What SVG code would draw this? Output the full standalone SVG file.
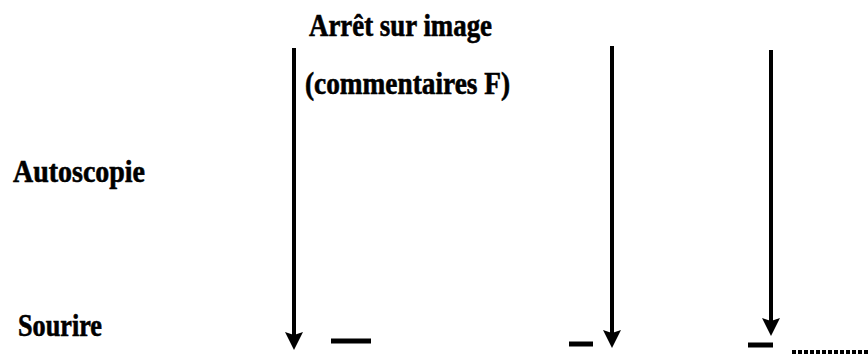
<svg xmlns="http://www.w3.org/2000/svg" width="868" height="356" viewBox="0 0 868 356">
<defs>
<style>
.t{font-family:"Liberation Serif","Times New Roman",serif;font-weight:bold;font-size:31px;fill:#000;stroke:#000;stroke-width:0.6}
.ln{stroke:#000;stroke-width:4;fill:none}
.dash{stroke:#000;stroke-width:5;fill:none}
</style>
<marker id="ah" viewBox="0 0 18 18" refX="6" refY="9" markerWidth="18" markerHeight="18" markerUnits="userSpaceOnUse" orient="auto">
<path d="M0,0 L18,9 L0,18 L3,9 z" fill="#000"/>
</marker>
</defs>
<rect width="868" height="356" fill="#fff"/>
<g id="label-arret">
<text class="t" x="309" y="36" textLength="183" lengthAdjust="spacingAndGlyphs">Arrêt sur image</text>
<text class="t" x="305" y="94" textLength="205" lengthAdjust="spacingAndGlyphs">(commentaires F)</text>
</g>
<g id="label-autoscopie">
<text class="t" x="13" y="182" textLength="132" lengthAdjust="spacingAndGlyphs">Autoscopie</text>
</g>
<g id="label-sourire">
<text class="t" x="18" y="336" textLength="84" lengthAdjust="spacingAndGlyphs">Sourire</text>
</g>
<g id="connectors">
<line class="ln" x1="294" y1="48" x2="294" y2="338" marker-end="url(#ah)"/>
<line class="ln" x1="612" y1="46" x2="612" y2="336" marker-end="url(#ah)"/>
<line class="ln" x1="771" y1="50" x2="771" y2="324" marker-end="url(#ah)"/>
</g>
<g id="marks">
<line class="dash" x1="331" y1="341" x2="371" y2="341"/>
<line class="dash" x1="569" y1="344" x2="593" y2="344"/>
<line class="dash" x1="748" y1="345" x2="773" y2="345"/>
<line x1="792" y1="352" x2="868" y2="352" stroke="#000" stroke-width="4" stroke-dasharray="4 2"/>
</g>
</svg>
